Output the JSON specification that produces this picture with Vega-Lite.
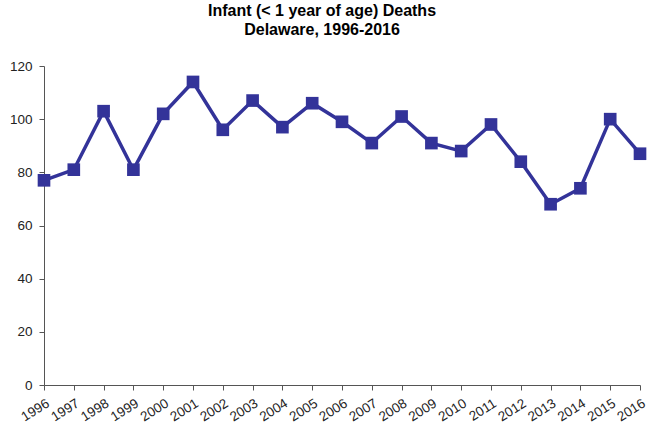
{
  "$schema": "https://vega.github.io/schema/vega-lite/v6.json",
  "autosize": {"type": "none"},
  "width": 596,
  "height": 319,
  "padding": {"left": 44, "top": 66, "right": 21, "bottom": 43},
  "background": "white",
  "title": {
    "text": ["Infant (< 1 year of age) Deaths", "Delaware, 1996-2016"],
    "font": "Liberation Sans",
    "fontSize": 16,
    "fontWeight": "bold",
    "color": "#000000",
    "anchor": "middle",
    "dx": -20,
    "offset": 21,
    "lineHeight": 19
  },
  "config": {"view": {"stroke": null}},
  "data": {
    "values": [
      {"year": "1996", "deaths": 77},
      {"year": "1997", "deaths": 81},
      {"year": "1998", "deaths": 103},
      {"year": "1999", "deaths": 81},
      {"year": "2000", "deaths": 102},
      {"year": "2001", "deaths": 114},
      {"year": "2002", "deaths": 96},
      {"year": "2003", "deaths": 107},
      {"year": "2004", "deaths": 97},
      {"year": "2005", "deaths": 106},
      {"year": "2006", "deaths": 99},
      {"year": "2007", "deaths": 91},
      {"year": "2008", "deaths": 101},
      {"year": "2009", "deaths": 91},
      {"year": "2010", "deaths": 88},
      {"year": "2011", "deaths": 98},
      {"year": "2012", "deaths": 84},
      {"year": "2013", "deaths": 68},
      {"year": "2014", "deaths": 74},
      {"year": "2015", "deaths": 100},
      {"year": "2016", "deaths": 87}
    ]
  },
  "encoding": {
    "x": {
      "field": "year",
      "type": "ordinal",
      "scale": {"type": "point", "padding": 0},
      "axis": {
        "title": null,
        "labelAngle": -32,
        "labelAlign": "right",
        "labelBaseline": "top",
        "labelFont": "Liberation Sans",
        "labelFontSize": 13.5,
        "labelColor": "#222222",
        "labelPadding": 6,
        "domainColor": "#555555",
        "tickColor": "#555555",
        "tickSize": 5,
        "grid": false
      }
    },
    "y": {
      "field": "deaths",
      "type": "quantitative",
      "scale": {"domain": [0, 120]},
      "axis": {
        "title": null,
        "values": [0, 20, 40, 60, 80, 100, 120],
        "labelFont": "Liberation Sans",
        "labelFontSize": 13.5,
        "labelColor": "#222222",
        "labelPadding": 7,
        "domainColor": "#555555",
        "tickColor": "#555555",
        "tickSize": 5,
        "grid": false
      }
    }
  },
  "layer": [
    {"mark": {"type": "line", "color": "#333399", "strokeWidth": 3.5}},
    {"mark": {"type": "square", "color": "#333399", "opacity": 1, "filled": true, "size": 160}}
  ]
}
